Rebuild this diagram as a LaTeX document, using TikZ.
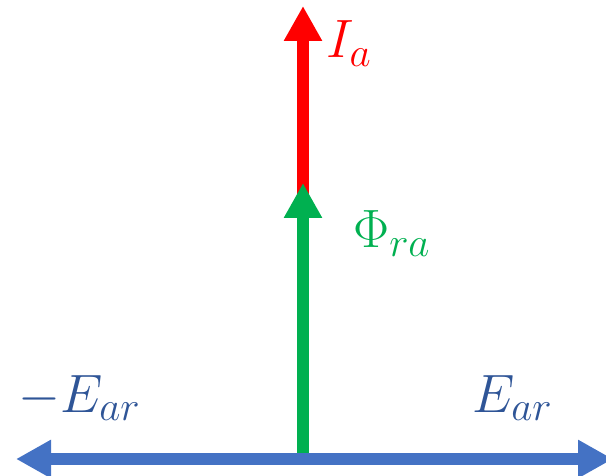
\RequirePackage{fix-cm}
\documentclass[tikz,border=0pt]{standalone}
\usetikzlibrary{arrows.meta}
\DeclareMathSizes{54}{54}{41}{30}
\definecolor{cred}{HTML}{FF0000}
\definecolor{cgreen}{HTML}{00B050}
\definecolor{cblue}{HTML}{4472C4}
\definecolor{tblue}{HTML}{2F5597}
\begin{document}
\begin{tikzpicture}[x=1pt,y=-1pt,
  vec/.style={line width=12pt,-{Triangle[width=36pt,length=35pt]}},
  lbl/.style={inner sep=0pt,anchor=base west,font=\fontsize{54}{60}\selectfont}]
\useasboundingbox (0,0) rectangle (606,476);
\coordinate (O) at (303,459);
\coordinate (Itip) at (303,6);
\coordinate (Istart) at (303,195);
\coordinate (Ftip) at (303,183);
\coordinate (Eleft) at (16,459);
\coordinate (Eright) at (613,459);
\draw[vec,cred] (Istart) -- (Itip);
\draw[vec,cgreen] (O) -- (Ftip);
\draw[cblue,line width=12pt,{Triangle[width=36pt,length=35pt]}-{Triangle[width=36pt,length=35pt]}] (Eleft) -- (Eright);
\node[lbl,text=cred] (Ia) at (326,58) {$I_a$};
\node[lbl,text=cgreen] (Phi) at (353,248) {$\Phi_{ra}$};
\node[lbl,text=tblue] (mEar) at (18,412) {$-E_{ar}$};
\node[lbl,text=tblue] (Ear) at (472,412) {$E_{ar}$};
\end{tikzpicture}
\end{document}
